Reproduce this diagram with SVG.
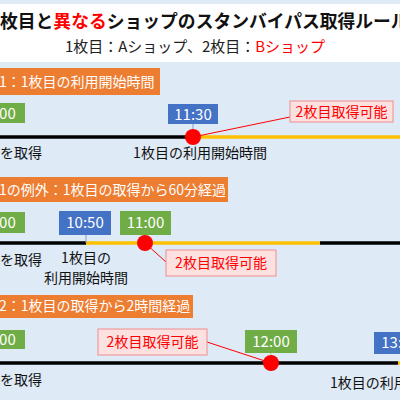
<svg xmlns="http://www.w3.org/2000/svg" width="400" height="400" viewBox="0 0 400 400">
<style>
text{font-family:"Noto Sans CJK JP","Noto Sans",sans-serif}
.hdr{fill:#ed7d31}
.hdrt{fill:#fff;font-size:14px}
.g{fill:#70ad47}
.b{fill:#4472c4}
.tt{fill:#fff;font-size:15px;text-anchor:middle}
.lbl{fill:#111;font-size:14px}
.co{fill:#fde1e1;stroke:#f08c8c;stroke-width:1}
.cot{fill:#ff0000;font-size:14px;text-anchor:middle}
.blk{stroke:#000;stroke-width:3.5}
.yel{stroke:#ffc000;stroke-width:3.5}
.stem{stroke:#7f9fd8;stroke-width:1}
.rl{stroke:#ff0000;stroke-width:1;fill:none}
.dot{fill:#ff0000}
</style>
<rect x="0" y="0" width="400" height="400" fill="#deeaf6"/>
<g id="title">
<rect x="0" y="4" width="400" height="58" fill="#fff"/>
<text x="0" y="28" font-size="17.8" font-weight="bold" fill="#111">枚目と<tspan fill="#ff0000">異なる</tspan>ショップのスタンバイパス取得ルール</text>
<text x="195" y="52" font-size="15" fill="#222" text-anchor="middle">1枚目：Aショップ、2枚目：<tspan fill="#ff0000">Bショップ</tspan></text>
</g>
<g id="connectors">
<line class="blk" x1="0" y1="137" x2="193" y2="137"/>
<line class="yel" x1="193" y1="137" x2="400" y2="137"/>
<line class="stem" x1="193" y1="124" x2="193" y2="137"/>
<line class="rl" x1="193" y1="137" x2="290" y2="117"/>
<line class="blk" x1="0" y1="243" x2="86" y2="243"/>
<line class="yel" x1="86" y1="243" x2="320" y2="243"/>
<line class="blk" x1="320" y1="243" x2="400" y2="243"/>
<line class="stem" x1="86" y1="235" x2="86" y2="243"/>
<line stroke="#a9d18e" stroke-width="1" x1="145" y1="235" x2="145" y2="243"/>
<line class="rl" x1="145" y1="243" x2="166" y2="262"/>
<line class="blk" x1="0" y1="363" x2="398" y2="363"/>
<line class="yel" x1="398" y1="363" x2="400" y2="363"/>
<line stroke="#a9d18e" stroke-width="1" x1="271" y1="353" x2="271" y2="363"/>
<line class="rl" x1="207" y1="342" x2="271" y2="363"/>
</g>
<g id="case1">
<rect class="hdr" x="-2" y="68" width="162" height="27"/>
<text class="hdrt" x="-1" y="87">1：1枚目の利用開始時間</text>
</g>
<g id="c1-1000">
<rect class="g" x="-30" y="103" width="55" height="20"/>
<text class="tt" x="-3" y="119">10:00</text>
<text class="lbl" x="0" y="158">を取得</text>
</g>
<g id="c1-1130">
<rect class="b" x="168" y="104" width="50" height="20"/>
<text class="tt" x="193" y="120">11:30</text>
<circle class="dot" cx="193" cy="137" r="8"/>
<text class="lbl" x="200" y="158" text-anchor="middle">1枚目の利用開始時間</text>
</g>
<g id="c1-callout">
<rect class="co" x="290" y="101" width="103" height="21"/>
<text class="cot" x="341.5" y="117">2枚目取得可能</text>
</g>
<g id="case2">
<rect class="hdr" x="-2" y="177" width="230" height="25"/>
<text class="hdrt" x="-1" y="195">1の例外：1枚目の取得から60分経過</text>
</g>
<g id="c2-1000">
<rect class="g" x="-30" y="212" width="55" height="21"/>
<text class="tt" x="-3" y="228">10:00</text>
<text class="lbl" x="0" y="265">を取得</text>
</g>
<g id="c2-1050">
<rect class="b" x="59" y="211" width="52" height="24"/>
<text class="tt" x="85" y="228">10:50</text>
<text class="lbl" x="86" y="263" text-anchor="middle">1枚目の</text>
<text class="lbl" x="86" y="283" text-anchor="middle">利用開始時間</text>
</g>
<g id="c2-1100">
<rect class="g" x="120" y="211" width="51" height="24"/>
<text class="tt" x="145.5" y="228">11:00</text>
<circle class="dot" cx="145" cy="243" r="8"/>
</g>
<g id="c2-callout">
<rect class="co" x="166" y="250" width="110" height="26"/>
<text class="cot" x="221" y="268">2枚目取得可能</text>
</g>
<g id="case3">
<rect class="hdr" x="-2" y="295" width="195" height="23"/>
<text class="hdrt" x="-1" y="311">2：1枚目の取得から2時間経過</text>
</g>
<g id="c3-1000">
<rect class="g" x="-30" y="330" width="55" height="19"/>
<text class="tt" x="-3" y="345">10:00</text>
<text class="lbl" x="0" y="385">を取得</text>
</g>
<g id="c3-callout">
<rect class="co" x="98" y="329" width="109" height="26"/>
<text class="cot" x="152.5" y="347">2枚目取得可能</text>
</g>
<g id="c3-1200">
<rect class="g" x="245" y="330" width="52" height="23"/>
<text class="tt" x="271" y="347">12:00</text>
<circle class="dot" cx="271" cy="363" r="8"/>
</g>
<g id="c3-1300">
<rect class="b" x="374" y="332" width="52" height="22"/>
<text class="tt" x="400" y="348">13:00</text>
<text class="lbl" x="330" y="388">1枚目の利用開始時間</text>
</g>
</svg>
